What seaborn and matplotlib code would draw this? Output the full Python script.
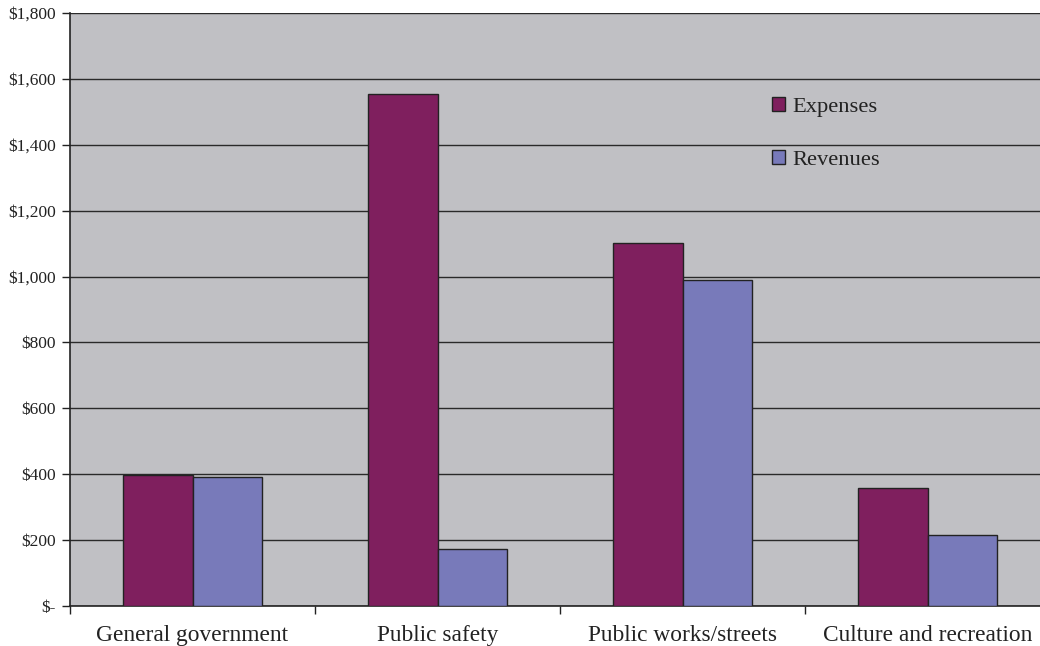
import pandas as pd
import matplotlib
matplotlib.use("Agg")
import matplotlib.pyplot as plt
from matplotlib.ticker import FuncFormatter, FixedLocator
import seaborn as sns

# Values in thousands of dollars
categories = ["General government", "Public safety", "Public works/streets", "Culture and recreation"]
expenses = [397, 1553, 1103, 357]
revenues = [391, 174, 990, 215]
series_names = ["Expenses", "Revenues"]
series_colors = ["#7F1F5E", "#787ABA"]
y_ticks = [0, 200, 400, 600, 800, 1000, 1200, 1400, 1600, 1800]

df = pd.DataFrame({
    "Function": categories * 2,
    "Amount": expenses + revenues,
    "Type": [series_names[0]] * len(categories) + [series_names[1]] * len(categories),
})

sns.set_style("white")
plt.rcParams["font.family"] = ["Liberation Serif", "DejaVu Serif"]

fig = plt.figure(figsize=(10.4, 6.46), dpi=100)
ax = fig.add_axes([70 / 1040, 40 / 646, 980 / 1040, 593 / 646])
ax.set_facecolor("#C0C0C4")

sns.barplot(data=df, x="Function", y="Amount", hue="Type", hue_order=series_names,
            palette=series_colors, saturation=1, width=0.571, gap=0,
            edgecolor="#222222", linewidth=1.0, ax=ax, zorder=3)

# gridlines
ax.set_axisbelow(True)
ax.yaxis.grid(True, color="#2a2a2a", linewidth=1.0)
ax.xaxis.grid(False)

ax.set_ylim(0, 1800)
ax.set_xlim(-0.5, len(categories) - 0.5)
ax.set_yticks(y_ticks)
ax.yaxis.set_major_formatter(FuncFormatter(lambda v, p: "$-" if v == 0 else f"${v:,.0f}"))
ax.tick_params(axis="y", direction="out", length=6, width=1, color="#222222",
               labelsize=12.5, labelcolor="#222222", left=True, pad=4)

# category labels without ticks, boundaries with ticks
ax.tick_params(axis="x", which="major", length=0, labelsize=16.8, labelcolor="#222222", pad=13.5)
ax.xaxis.set_minor_locator(FixedLocator([i - 0.5 for i in range(len(categories) + 1)]))
ax.tick_params(axis="x", which="minor", direction="out", length=6, width=1, color="#222222", bottom=True)

ax.set_xlabel("")
ax.set_ylabel("")

for side in ["top", "right"]:
    ax.spines[side].set_visible(False)
for side in ["left", "bottom"]:
    ax.spines[side].set_color("#222222")
    ax.spines[side].set_linewidth(1.2)

leg = ax.legend(loc="upper left", bbox_to_anchor=(0.716, 0.858), frameon=False,
                fontsize=16.2, handlelength=0.6, handleheight=0.6, handletextpad=0.3,
                labelspacing=1.45, borderpad=0, borderaxespad=0)
for t in leg.get_texts():
    t.set_color("#222222")

fig.savefig("out.png", dpi=100)
